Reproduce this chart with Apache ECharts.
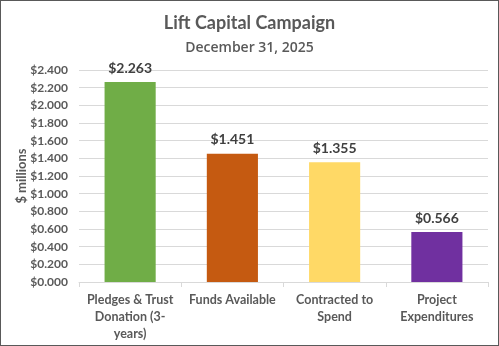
<!DOCTYPE html>
<html><head><meta charset="utf-8">
<script src="https://cdn.jsdelivr.net/npm/echarts@6/dist/echarts.min.js"></script>
<style>html,body{margin:0;padding:0;background:#fff}#c{width:497px;height:344px;border:1px solid #595959}</style>
</head><body><div id="c"></div>
<script>
const categories = ["Pledges & Trust\nDonation (3-\nyears)", "Funds Available", "Contracted to\nSpend", "Project\nExpenditures"];
const values = [2.263, 1.451, 1.355, 0.566];
const colors = ["#70AD47", "#C55A11", "#FFD966", "#7030A0"];
const titleText = "Lift Capital Campaign";
const subtitleText = "December 31, 2025";
const yName = "$ millions";
const F = "Lato";
const chart = echarts.init(document.getElementById('c'));
chart.setOption({
  animation: false,
  textStyle: {fontFamily: F},
  title: [
    {text: titleText, left: 'center', top: 8, textStyle: {fontFamily: F, fontSize: 18, fontWeight: 'bold', color: '#595959'}},
    {text: subtitleText, left: 'center', top: 35, textStyle: {fontFamily: 'Open Sans', fontSize: 14, fontWeight: 600, color: '#595959'}}
  ],
  graphic: [{
    type: 'text', x: 21, y: 175, rotation: Math.PI / 2,
    style: {text: yName, fill: '#595959', font: 'bold 13px Lato', align: 'center', verticalAlign: 'middle'}
  }],
  grid: {left: 78, right: 10, top: 69, bottom: 63, containLabel: false},
  xAxis: {
    type: 'category', data: categories,
    axisLine: {lineStyle: {color: '#D9D9D9'}},
    axisTick: {show: true, length: 5, lineStyle: {color: '#D9D9D9'}},
    axisLabel: {color: '#595959', fontSize: 12.5, fontWeight: 'bold', lineHeight: 17, margin: 9, interval: 0}
  },
  yAxis: {
    type: 'value', min: 0, max: 2.4, interval: 0.2,
    axisLine: {show: false}, axisTick: {show: false},
    splitLine: {lineStyle: {color: '#D9D9D9'}},
    axisLabel: {color: '#595959', fontSize: 12, fontWeight: 'bold', margin: 11, formatter: v => '$' + v.toFixed(3)}
  },
  series: [{
    type: 'bar', barWidth: '50%',
    data: values.map((v, i) => ({value: v, itemStyle: {color: colors[i]}})),
    label: {show: true, position: 'top', distance: 7, color: '#404040', fontSize: 14, fontWeight: 'bold', formatter: p => '$' + p.value.toFixed(3)}
  }]
});
</script></body></html>
